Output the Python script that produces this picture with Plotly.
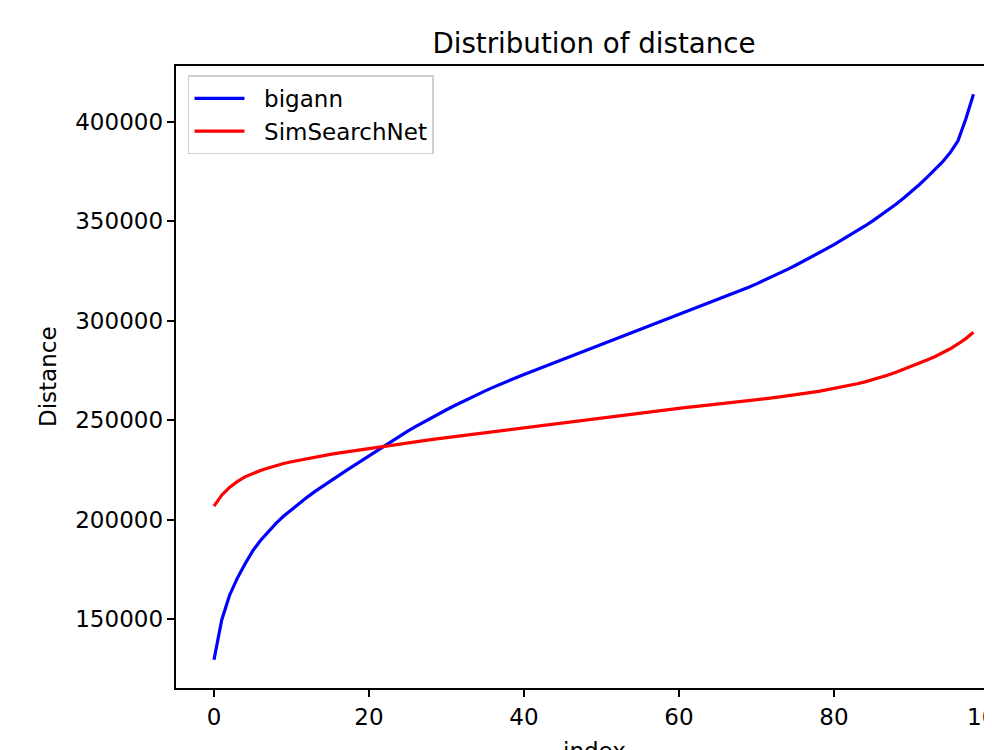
import plotly.graph_objects as go

index = list(range(99))

bigann = [
    129700, 149700, 162000, 170600, 177800, 184400, 189600, 194000, 198200, 201900,
    205200, 208300, 211300, 214200, 216900, 219500, 222100, 224600, 227100, 229600,
    232200, 234800, 237400, 239900, 242300, 244600, 246850, 249050, 251200, 253300,
    255350, 257350, 259300, 261200, 263050, 264850, 266600, 268300, 269950, 271550,
    273100, 274600, 276100, 277600, 279100, 280600, 282100, 283600, 285100, 286600,
    288100, 289600, 291100, 292600, 294100, 295600, 297100, 298600, 300100, 301600,
    303100, 304600, 306100, 307600, 309100, 310600, 312100, 313650, 315250, 316900,
    318600, 320350, 322150, 324000, 325900, 327850, 329850, 331900, 334000, 336150,
    338350, 340600, 342900, 345250, 347700, 350250, 352900, 355700, 358650, 361750,
    365000, 368450, 372100, 375900, 379900, 384600, 390500, 401300, 413900,
]

simsearchnet = [
    206900, 212400, 216300, 219200, 221600, 223300, 224800, 226100, 227300, 228300,
    229200, 230000, 230800, 231500, 232200, 232900, 233500, 234100, 234700, 235300,
    235900, 236500, 237100, 237700, 238300, 238800, 239300, 239800, 240300, 240800,
    241300, 241800, 242300, 242800, 243300, 243800, 244300, 244800, 245300, 245800,
    246300, 246800, 247300, 247800, 248350, 248850, 249350, 249850, 250350, 250850,
    251350, 251850, 252350, 252850, 253350, 253850, 254350, 254800, 255250, 255700,
    256100, 256500, 256900, 257300, 257700, 258100, 258500, 258950, 259400, 259850,
    260300, 260800, 261300, 261800, 262300, 262800, 263350, 263950, 264600, 265300,
    266000, 266750, 267550, 268400, 269350, 270400, 271500, 272800, 274200, 275650,
    277150, 278700, 280300, 282000, 283900, 286000, 288400, 291100, 294300,
]

x_ticks = [0, 20, 40, 60, 80, 100]
y_ticks = [150000, 200000, 250000, 300000, 350000, 400000]

FONT = "DejaVu Sans"
NB = "\u00a0"

fig = go.Figure()
fig.add_trace(go.Scatter(x=index, y=bigann, mode="lines", name=NB * 2 + "bigann",
                         line=dict(color="#0000ff", width=3.2)))
fig.add_trace(go.Scatter(x=index, y=simsearchnet, mode="lines", name=NB * 2 + "SimSearchNet",
                         line=dict(color="#ff0000", width=3.2)))

ymin, ymax = min(bigann + simsearchnet), max(bigann + simsearchnet)
pad = 0.05 * (ymax - ymin)

# page body has an 8px margin; figure is sized so the plot lands where the reference's does
W, H = 984, 742
fig.update_layout(
    width=W, height=H,
    margin=dict(l=168, r=0, t=58, b=62),
    paper_bgcolor="white", plot_bgcolor="white",
    font=dict(family=FONT, size=23, color="black"),
    showlegend=True,
    legend=dict(x=0.0147, y=0.985, xanchor="left", yanchor="top",
                bgcolor="white", bordercolor="#d0d0d0", borderwidth=1.5,
                font=dict(size=23), tracegroupgap=0, itemwidth=50),
    title=dict(text="Distribution of distance", x=(594 - 8) / W, xref="container",
               xanchor="center", y=1 - (43 - 8) / H, yref="container", yanchor="middle",
               font=dict(size=27.7, family=FONT)),
    xaxis=dict(range=[-4.9, 100.39], tickvals=x_ticks, showgrid=False, zeroline=False,
               showline=True, linecolor="black", linewidth=1.7, mirror=True,
               ticks="outside", ticklen=7.5, tickwidth=1.7, tickcolor="black",
               ticklabeloverflow="allow", automargin=False),
    yaxis=dict(range=[ymin - pad, ymax + pad], tickvals=y_ticks, tickformat="d",
               showgrid=False, zeroline=False,
               showline=True, linecolor="black", linewidth=1.7, mirror=False,
               ticks="outside", ticklen=7.5, tickwidth=1.7, tickcolor="black",
               ticklabelstandoff=-1, automargin=False),
    annotations=[
        dict(text="index", xref="paper", yref="paper", x=(594 - 176) / 816,
             y=(688 - 736) / 622, xanchor="center", yanchor="top",
             showarrow=False, font=dict(size=23, family=FONT)),
        dict(text="Distance", xref="paper", yref="paper", x=(48 - 176) / 816,
             y=0.5, xanchor="center", yanchor="middle", textangle=-90,
             showarrow=False, font=dict(size=23, family=FONT)),
    ],
)

fig.write_html("out.html")
